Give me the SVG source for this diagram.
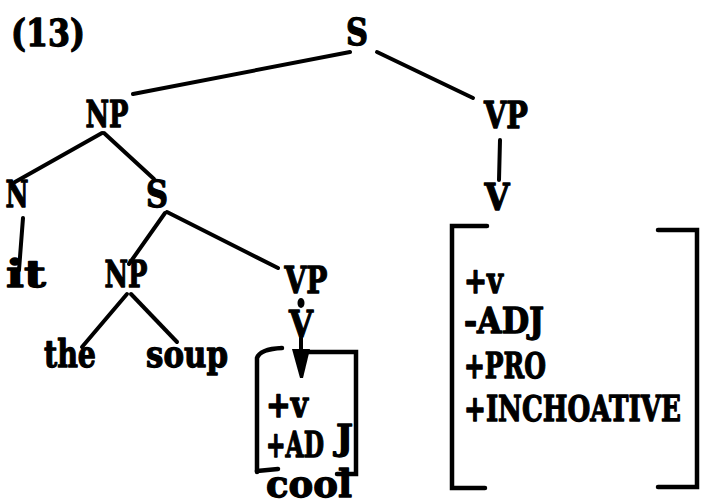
<svg xmlns="http://www.w3.org/2000/svg" width="702" height="504" viewBox="0 0 702 504">
<style>
text{font-family:"DejaVu Serif","Liberation Serif",serif;font-weight:bold;font-size:38px;fill:#000;stroke:#000;stroke-width:1.3;stroke-linejoin:round}
.m{text-anchor:middle}
.f{font-size:35px}
.e{stroke:#000;stroke-width:4;stroke-linecap:round;fill:none}
.b{stroke:#000;stroke-width:4.5;stroke-linecap:round;fill:none}
</style>
<rect width="702" height="504" fill="#fff"/>
<text id="label13" x="11" y="46" textLength="74" lengthAdjust="spacingAndGlyphs">(13)</text>
<g id="connectors">
<line class="e" x1="350" y1="52" x2="133" y2="94"/>
<line class="e" x1="377" y1="52" x2="473" y2="98"/>
<line class="e" x1="102" y1="133" x2="15" y2="182"/>
<line class="e" x1="104" y1="133" x2="154" y2="179"/>
<line class="e" x1="500" y1="140" x2="499" y2="180"/>
<line class="e" x1="23" y1="218" x2="19" y2="270"/>
<line class="e" x1="165" y1="213" x2="129" y2="264"/>
<line class="e" x1="167" y1="212" x2="278" y2="268"/>
<line class="e" x1="127" y1="294" x2="82" y2="347"/>
<line class="e" x1="131" y1="294" x2="177" y2="342"/>
<ellipse cx="301" cy="303" rx="3.5" ry="5"/>
<line class="e" x1="301" y1="338" x2="301" y2="352"/>
<polygon points="292,349 310,349 303,378 300,378"/>
</g>
<g id="n-S"><text class="m" x="357" y="45" textLength="22" lengthAdjust="spacingAndGlyphs">S</text></g>
<g id="n-NP"><text class="m" x="107" y="127" textLength="43" lengthAdjust="spacingAndGlyphs">NP</text></g>
<g id="n-VP"><text class="m" x="506" y="128" textLength="44" lengthAdjust="spacingAndGlyphs">VP</text></g>
<g id="n-V"><text class="m" x="497" y="210" textLength="25" lengthAdjust="spacingAndGlyphs">V</text></g>
<g id="n-N"><text class="m" x="17" y="207" textLength="23" lengthAdjust="spacingAndGlyphs">N</text></g>
<g id="n-S2"><text class="m" x="157" y="207" textLength="22" lengthAdjust="spacingAndGlyphs">S</text></g>
<g id="n-it"><text x="6" y="287" textLength="40" lengthAdjust="spacingAndGlyphs">it</text></g>
<g id="n-NP2"><text class="m" x="126" y="287" textLength="43" lengthAdjust="spacingAndGlyphs">NP</text></g>
<g id="n-VP2"><text class="m" x="306" y="293" textLength="43" lengthAdjust="spacingAndGlyphs">VP</text></g>
<g id="n-V2"><text class="m" x="301" y="337" textLength="24" lengthAdjust="spacingAndGlyphs">V</text></g>
<g id="n-the"><text x="44" y="367" textLength="52" lengthAdjust="spacingAndGlyphs">the</text></g>
<g id="n-soup"><text x="146" y="367" textLength="82" lengthAdjust="spacingAndGlyphs">soup</text></g>
<g id="n-cool">
<path class="b" d="M257,472 V358 Q260,349 282,348"/>
<line class="b" x1="257" y1="471" x2="278" y2="469"/>
<path class="b" d="M307,352 H356 V474 H337"/>
<text class="f" x="266" y="417" textLength="42" lengthAdjust="spacingAndGlyphs">+v</text>
<text class="f" x="266" y="457" textLength="58" lengthAdjust="spacingAndGlyphs">+AD</text>
<text class="f" x="336" y="450" textLength="17" lengthAdjust="spacingAndGlyphs">J</text>
<text x="266" y="497" textLength="86" lengthAdjust="spacingAndGlyphs">cool</text>
</g>
<g id="n-features">
<path class="b" d="M487,226 H452 V488 H485"/>
<path class="b" d="M658,230 H697 V487 H658"/>
<text class="f" x="464" y="293" textLength="39" lengthAdjust="spacingAndGlyphs">+v</text>
<text class="f" x="464" y="333" textLength="80" lengthAdjust="spacingAndGlyphs">-ADJ</text>
<text class="f" x="464" y="378" textLength="82" lengthAdjust="spacingAndGlyphs">+PRO</text>
<text class="f" x="464" y="421" textLength="217" lengthAdjust="spacingAndGlyphs">+INCHOATIVE</text>
</g>
</svg>
